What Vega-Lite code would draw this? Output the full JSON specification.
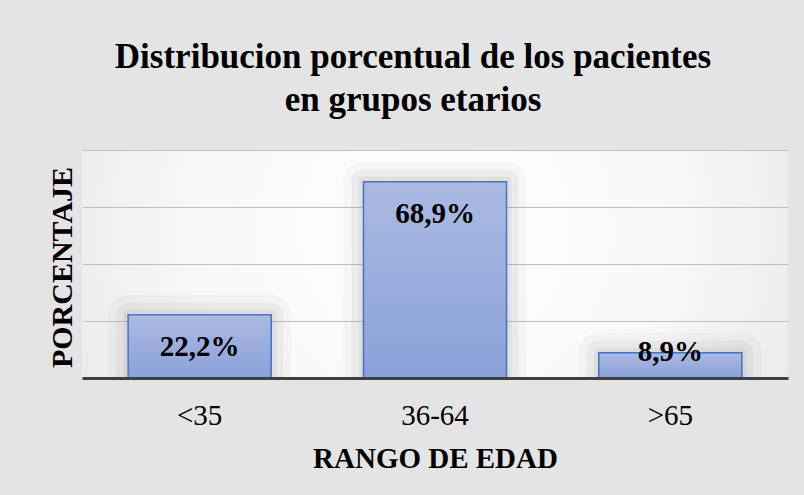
{
  "$schema": "https://vega.github.io/schema/vega-lite/v6.json",
  "width": 706,
  "height": 228,
  "autosize": {"type": "none"},
  "padding": {"left": 82, "top": 150, "right": 16, "bottom": 117},
  "background": "#e4e4e4",
  "title": {
    "text": ["Distribucion porcentual de los pacientes", "en grupos etarios"],
    "font": "Liberation Serif",
    "fontSize": 35,
    "fontWeight": "bold",
    "color": "#000000",
    "lineHeight": 43,
    "anchor": "middle",
    "dx": -22,
    "baseline": "bottom",
    "offset": -3
  },
  "config": {
    "font": "Liberation Serif",
    "view": {
      "stroke": null,
      "fill": {
        "gradient": "radial",
        "x1": 0.5, "y1": 0.45, "r1": 0,
        "x2": 0.5, "y2": 0.45, "r2": 0.75,
        "stops": [
          {"offset": 0, "color": "#ffffff"},
          {"offset": 0.45, "color": "#f8f8f8"},
          {"offset": 1, "color": "#e0e0e0"}
        ]
      }
    }
  },
  "data": {
    "values": [
      {"rango": "<35", "porcentaje": 22.2, "etiqueta": "22,2%"},
      {"rango": "36-64", "porcentaje": 68.9, "etiqueta": "68,9%"},
      {"rango": ">65", "porcentaje": 8.9, "etiqueta": "8,9%"}
    ]
  },
  "encoding": {
    "x": {
      "field": "rango",
      "type": "nominal",
      "sort": null,
      "scale": {"paddingInner": 0.392, "paddingOuter": 0.196},
      "axis": {
        "title": "RANGO DE EDAD",
        "zindex": 1,
        "labelAngle": 0,
        "labelFont": "Liberation Serif",
        "labelFontSize": 29,
        "labelColor": "#000000",
        "labelBaseline": "alphabetic",
        "labelPadding": 46,
        "ticks": false,
        "tickSize": 0,
        "domainColor": "#404040",
        "domainWidth": 3,
        "titleFont": "Liberation Serif",
        "titleFontSize": 29,
        "titleFontWeight": "bold",
        "titleColor": "#000000",
        "titleBaseline": "alphabetic",
        "titleY": 89
      }
    },
    "y": {
      "field": "porcentaje",
      "type": "quantitative",
      "scale": {"domain": [0, 80], "nice": false},
      "axis": {
        "title": "PORCENTAJE",
        "labels": false,
        "ticks": false,
        "tickSize": 0,
        "domain": false,
        "values": [0, 20, 40, 60, 80],
        "gridColor": "#bfbfbf",
        "gridWidth": 1,
        "titleFont": "Liberation Serif",
        "titleFontSize": 30,
        "titleFontWeight": "bold",
        "titleColor": "#000000",
        "titleBaseline": "alphabetic",
        "titleX": -11,
        "titleY": 117
      }
    }
  },
  "layer": [
    {
      "mark": {"type": "bar", "clip": true, "fill": "#808080", "fillOpacity": 0, "stroke": "#808080", "strokeOpacity": 0.06, "strokeWidth": 40, "strokeJoin": "round"}
    },
    {
      "mark": {"type": "bar", "clip": true, "fill": "#808080", "fillOpacity": 0, "stroke": "#808080", "strokeOpacity": 0.08, "strokeWidth": 24, "strokeJoin": "round"}
    },
    {
      "mark": {"type": "bar", "clip": true, "fill": "#808080", "fillOpacity": 0, "stroke": "#808080", "strokeOpacity": 0.1, "strokeWidth": 10, "strokeJoin": "round"}
    },
    {
      "mark": {
        "type": "bar",
        "fill": {
          "gradient": "linear",
          "x1": 0, "y1": 0, "x2": 0, "y2": 1,
          "stops": [
            {"offset": 0, "color": "#abbae2"},
            {"offset": 1, "color": "#8aa1d8"}
          ]
        },
        "stroke": "#4472c4",
        "strokeWidth": 1.5
      }
    },
    {
      "transform": [{"filter": "datum.porcentaje > 15"}],
      "mark": {"type": "text", "baseline": "alphabetic", "dy": 41, "font": "Liberation Serif", "fontSize": 29, "fontWeight": "bold", "color": "#000000"},
      "encoding": {"text": {"field": "etiqueta", "type": "nominal"}}
    },
    {
      "transform": [{"filter": "datum.porcentaje <= 15"}],
      "mark": {"type": "text", "baseline": "alphabetic", "dy": 8, "font": "Liberation Serif", "fontSize": 29, "fontWeight": "bold", "color": "#000000"},
      "encoding": {"text": {"field": "etiqueta", "type": "nominal"}}
    }
  ]
}
